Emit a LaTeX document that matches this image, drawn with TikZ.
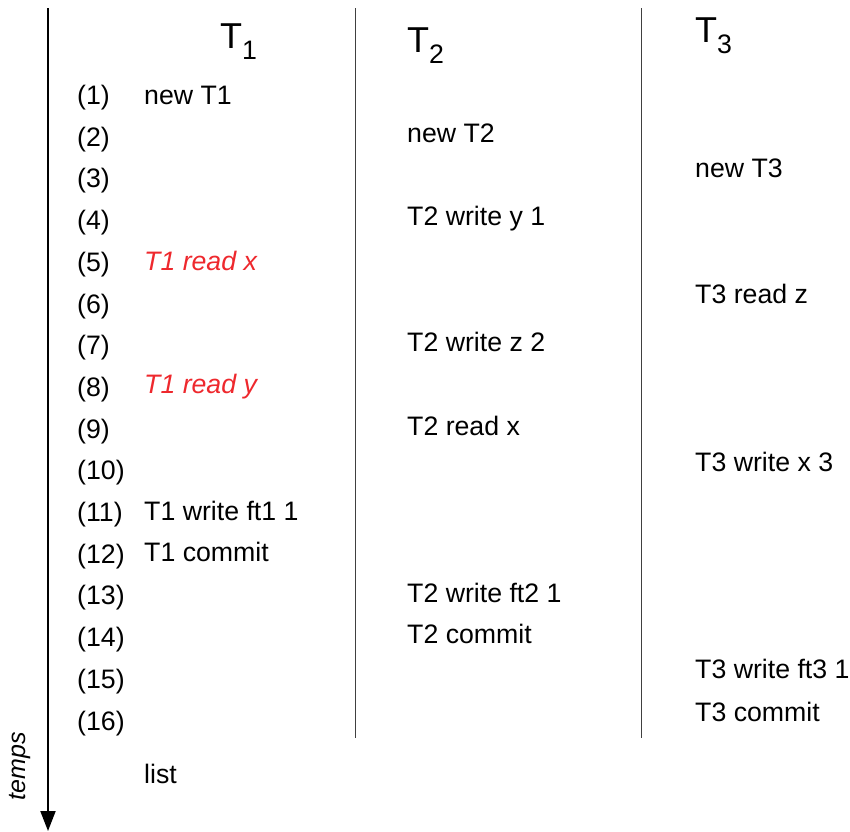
\documentclass[tikz,border=0pt]{standalone}
\usepackage{fontspec}
\setmainfont{Liberation Sans}
\usetikzlibrary{arrows.meta}
\definecolor{readred}{RGB}{238,40,45}
\tikzset{
  txt/.style={anchor=base west, inner sep=0pt, font=\fontsize{26.7}{30}\selectfont},
  redtxt/.style={txt, text=readred, font=\fontsize{26.7}{30}\selectfont\itshape},
  hdr/.style={anchor=base west, inner sep=0pt, font=\fontsize{36}{40}\selectfont},
  sep/.style={line width=1pt, draw=black!75},
  timeline/.style={line width=2pt, -{Triangle[length=20pt,width=15pt]}}
}
\newcommand{\hsub}[1]{\raisebox{-11pt}{\fontsize{26.7}{30}\selectfont #1}}
\begin{document}
\begin{tikzpicture}[x=1pt,y=-1pt]
\useasboundingbox (0,0) rectangle (850,831);
% axis
\coordinate (ta) at (48,8);
\coordinate (tb) at (48,831);
\draw[timeline] (ta) -- (tb);
\node[rotate=90, inner sep=0pt, font=\fontsize{25}{28}\selectfont\itshape] (temps) at (20,766) {temps};
% separators
\coordinate (s2a) at (355,8); \coordinate (s2b) at (355,738);
\coordinate (s3a) at (641,8); \coordinate (s3b) at (641,738);
\draw[sep] (s2a) -- (s2b);
\draw[sep] (s3a) -- (s3b);
% headers
\node[hdr] (h1) at (220,48) {T\hsub{1}};
\node[hdr] (h2) at (407,52) {T\hsub{2}};
\node[hdr] (h3) at (695,42) {T\hsub{3}};
% row numbers
\foreach \k in {1,...,16} {
  \node[txt] (r\k) at (77,{95+(\k-1)*41.7+9.5}) {(\k)};
}
% T1
\node[txt] (a1) at (144,104.5) {new T1};
\node[redtxt] (a2) at (144,270.5) {T1 read x};
\node[redtxt] (a3) at (144,393.5) {T1 read y};
\node[txt] (a4) at (144,520.5) {T1 write ft1 1};
\node[txt] (a5) at (144,561.5) {T1 commit};
\node[txt] (a6) at (144,783.5) {list};
% T2
\node[txt] (b1) at (407,142.5) {new T2};
\node[txt] (b2) at (407,225.5) {T2 write y 1};
\node[txt] (b3) at (407,351.5) {T2 write z 2};
\node[txt] (b4) at (407,435.5) {T2 read x};
\node[txt] (b5) at (407,602.5) {T2 write ft2 1};
\node[txt] (b6) at (407,643.5) {T2 commit};
% T3
\node[txt] (c1) at (695,177.5) {new T3};
\node[txt] (c2) at (695,303.5) {T3 read z};
\node[txt] (c3) at (695,471.5) {T3 write x 3};
\node[txt] (c4) at (695,678.5) {T3 write ft3 1};
\node[txt] (c5) at (695,721.5) {T3 commit};
\end{tikzpicture}
\end{document}
